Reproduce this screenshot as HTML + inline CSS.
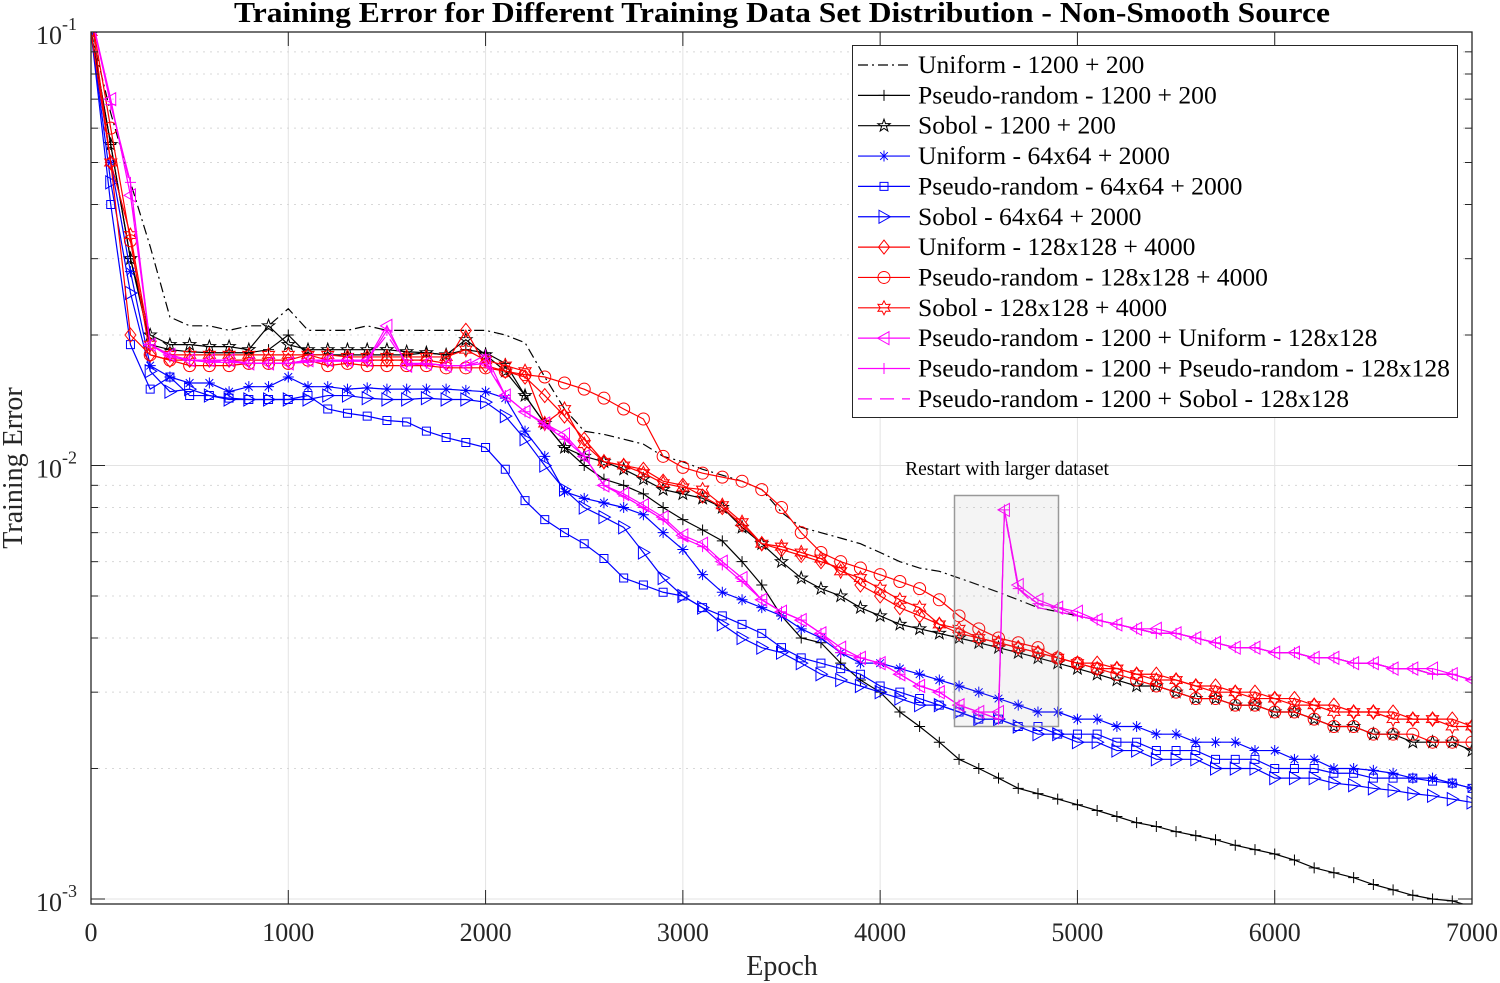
<!DOCTYPE html>
<html><head><meta charset="utf-8">
<style>
html,body{margin:0;padding:0;background:#fff;}
svg{display:block;font-family:"Liberation Serif",serif;}
</style></head>
<body>
<svg id="chart" width="1500" height="983" viewBox="0 0 1500 983" xmlns="http://www.w3.org/2000/svg">
<rect x="0" y="0" width="1500" height="983" fill="#fff"/>
<text x="782" y="22" text-anchor="middle" font-size="28" font-weight="bold" fill="#000" textLength="1096" lengthAdjust="spacingAndGlyphs">Training Error for Different Training Data Set Distribution - Non-Smooth Source</text>
<text x="782" y="975" text-anchor="middle" font-size="28" fill="#262626">Epoch</text>
<text transform="translate(22,468) rotate(-90)" text-anchor="middle" font-size="28" fill="#262626">Training Error</text>
<g id="grid"></g><g id="series"></g><g id="axes"></g><g id="annot"></g><g id="legend"></g>
</svg>
<script>
const epochs = [];
for (let e = 0; e <= 7000; e += 100) epochs.push(e);
const magentaEpochs = [];
for (let e = 0; e <= 4600; e += 100) magentaEpochs.push(e);
magentaEpochs.push(4630);
for (let e = 4700; e <= 7000; e += 100) magentaEpochs.push(e);
const xTicks = [0,1000,2000,3000,4000,5000,6000,7000];
const yDecades = [-1,-2,-3];

const uniform1200 = [.1,.065,.045,.032,.022,.021,.021,.0205,.021,.021,.023,
.0205,.0205,.0205,.021,.0205,.0205,.0205,.0205,.0205,.0205,
.02,.0192,.016,.0135,.012,.0118,.0115,.0112,.0105,.0102,
.0098,.0095,.0092,.0088,.0078,.0072,.007,.0068,.0066,.0063,
.006,.0058,.0057,.0055,.0053,.0051,.0049,.0047,.0046,.0045,
.0044,.0043,.0042,.0041,.0041,.004,.0039,.0038,.0038,.0037,
.0037,.0036,.0036,.0035,.0035,.0034,.0034,.0033,.0033,.0032];
const pseudo1200 = [.1,.055,.03,.019,.0185,.0183,.0182,.0182,.0182,.0185,.02,
.018,.018,.018,.018,.018,.018,.0182,.018,.0185,.0182,
.0172,.0145,.0125,.011,.01,.0093,.009,.0086,.008,.0075,
.0071,.0067,.006,.0053,.0045,.004,.0039,.0035,.0032,.003,
.0027,.0025,.0023,.0021,.002,.0019,.0018,.00175,.0017,.00165,
.0016,.00155,.0015,.00147,.00143,.0014,.00137,.00133,.0013,.00127,
.00123,.00118,.00115,.00112,.00108,.00105,.00102,.001,.00099,.00096];
const sobol1200 = [.1,.055,.03,.02,.019,.019,.0188,.0188,.0185,.021,.019,
.0185,.0185,.0185,.0185,.0185,.0183,.0182,.018,.0195,.018,
.0165,.0145,.0125,.011,.0105,.0102,.0098,.0093,.0088,.0086,
.0084,.008,.0072,.0066,.006,.0055,.0052,.005,.0047,.0045,
.0043,.0042,.0041,.004,.0039,.0038,.0037,.0036,.0035,.0034,
.0033,.0032,.0031,.0031,.003,.0029,.0029,.0028,.0028,.0027,
.0027,.0026,.0025,.0025,.0024,.0024,.0023,.0023,.0023,.0022];
const uniform64 = [.1,.05,.028,.017,.016,.0155,.0155,.0148,.0152,.0152,.016,
.0152,.0152,.015,.0151,.015,.015,.015,.015,.0149,.0148,
.0143,.012,.0105,.0087,.0084,.0082,.008,.0077,.007,.0064,
.0056,.0051,.0049,.0047,.0045,.0042,.004,.0037,.0035,.0035,
.0034,.0033,.0032,.0031,.003,.0029,.0028,.0027,.0027,.0026,
.0026,.0025,.0025,.0024,.0024,.0023,.0023,.0023,.0022,.0022,
.0021,.0021,.002,.002,.00198,.00195,.0019,.0019,.00185,.0018];
const pseudo64 = [.1,.04,.019,.015,.016,.0145,.0145,.0143,.0142,.0142,.0142,
.0145,.0135,.0132,.013,.0127,.0126,.012,.0116,.0113,.011,
.0098,.0083,.0075,.007,.0066,.0061,.0055,.0053,.0051,.005,
.0047,.0045,.0043,.0041,.0038,.0036,.0035,.0034,.0033,.0031,
.003,.0029,.0028,.0027,.0026,.0026,.0025,.0025,.0024,.0024,
.0024,.0023,.0023,.0022,.0022,.0022,.0021,.0021,.0021,.002,
.002,.002,.00195,.00195,.0019,.0019,.0019,.00187,.00185,.0018];
const sobol64 = [.1,.045,.025,.0165,.0148,.015,.0145,.0142,.0142,.0142,.0142,
.0142,.0145,.0145,.0143,.0142,.0142,.0143,.0142,.0142,.014,
.013,.0115,.01,.0088,.008,.0076,.0072,.0063,.0055,.005,
.0047,.0043,.004,.0038,.0037,.0035,.0033,.0032,.0031,.003,
.0029,.0028,.0028,.0027,.0026,.0026,.0025,.0024,.0024,.0023,
.0023,.0022,.0022,.0021,.0021,.0021,.002,.002,.002,.0019,
.0019,.0019,.00185,.00183,.0018,.00178,.00175,.00173,.0017,.00167];
const uniform128 = [.11,.05,.02,.018,.0175,.0175,.0175,.0175,.0175,.0175,.0175,
.018,.0175,.0175,.0175,.0175,.0175,.0175,.0172,.0205,.017,
.0165,.016,.0145,.013,.0115,.0102,.01,.0098,.0092,.009,
.0085,.008,.0073,.0066,.0064,.0062,.006,.0058,.0053,.005,
.0047,.0045,.0043,.0041,.004,.0039,.0038,.0037,.0036,.0035,
.0035,.0034,.0033,.0033,.0032,.0031,.0031,.003,.003,.0029,
.0029,.0028,.0028,.0027,.0027,.0027,.0026,.0026,.0026,.0025];
const pseudo128 = [.11,.06,.033,.018,.0175,.017,.017,.017,.0172,.0172,.0172,
.0175,.017,.0172,.017,.017,.017,.017,.0168,.0168,.0168,
.0165,.0162,.016,.0155,.015,.0143,.0135,.0128,.0105,.0099,
.0096,.0094,.0092,.0088,.008,.007,.0063,.006,.0058,.0056,
.0054,.0052,.0049,.0045,.0042,.004,.0039,.0038,.0036,.0035,
.0034,.0033,.0032,.0031,.003,.0029,.0029,.0028,.0028,.0027,
.0027,.0026,.0025,.0025,.0024,.0024,.0024,.0023,.0023,.0023];
const sobol128 = [.1,.05,.034,.019,.018,.018,.018,.018,.018,.018,.018,
.018,.018,.0178,.0178,.0178,.0178,.0178,.0178,.0185,.0175,
.017,.0165,.0125,.0135,.0112,.0102,.01,.0096,.0091,.0089,
.0088,.0081,.0074,.0066,.0065,.0063,.0061,.0057,.0055,.0052,
.0049,.0047,.0043,.0042,.004,.0039,.0038,.0037,.0036,.0035,
.0034,.0034,.0033,.0032,.0032,.0031,.003,.003,.0029,.0029,
.0028,.0028,.0027,.0027,.0027,.0026,.0026,.0026,.0025,.0025];
const prUniform = [.11,.07,.042,.019,.018,.0175,.0175,.0175,.0172,.0172,.0172,
.0175,.0175,.0175,.0175,.021,.017,.0172,.017,.017,.0172,
.0145,.0133,.0125,.0118,.0105,.009,.0086,.0081,.0076,.0069,
.0066,.006,.0055,.0049,.0046,.0044,.0041,.0038,.0036,.0035,
.0033,.0031,.003,.0028,.0027,.0027,
.0079,.0053,.0049,.0047,.0046,.0044,.0043,.0042,.0042,.0041,.004,.0039,.0038,.0038,.0037,.0037,.0036,.0036,.0035,.0035,.0034,.0034,.0034,.0033,.0032];
const prPseudo = [.11,.068,.045,.019,.0178,.0175,.0173,.0173,.0172,.0172,.0172,
.0173,.0174,.0174,.0174,.0205,.0172,.0172,.017,.017,.018,
.0145,.0133,.0124,.0115,.0105,.009,.0085,.008,.0075,.0068,
.0065,.0059,.0054,.0049,.0046,.0044,.0041,.0037,.0036,.0035,
.0033,.0031,.003,.0028,.0027,.0026,
.0079,.0052,.0048,.0047,.0045,.0044,.0043,.0042,.0041,.0041,.004,.0039,.0038,.0038,.0037,.0037,.0036,.0036,.0035,.0035,.0034,.0034,.0033,.0033,.0032];
const prSobol = [.11,.069,.044,.019,.018,.0175,.0174,.0174,.0172,.0172,.0172,
.0174,.0175,.0175,.0175,.02,.0171,.0171,.017,.017,.0175,
.0145,.0133,.0125,.0116,.0105,.009,.0085,.008,.0075,.0068,
.0065,.006,.0055,.0049,.0046,.0044,.0041,.0038,.0036,.0035,
.0033,.0031,.003,.0028,.0027,.0026,
.0078,.0052,.0047,.0046,.0045,.0044,.0043,.0042,.0041,.0041,.004,.0039,.0038,.0038,.0037,.0037,.0036,.0036,.0035,.0035,.0034,.0034,.0033,.0033,.0032];

const seriesNames = ["Uniform - 1200 + 200","Pseudo-random - 1200 + 200","Sobol - 1200 + 200",
"Uniform - 64x64 + 2000","Pseudo-random - 64x64 + 2000","Sobol - 64x64 + 2000",
"Uniform - 128x128 + 4000","Pseudo-random - 128x128 + 4000","Sobol - 128x128 + 4000",
"Pseudo-random - 1200 + Uniform - 128x128","Pseudo-random - 1200 + Pseudo-random - 128x128","Pseudo-random - 1200 + Sobol - 128x128"];

const NS="http://www.w3.org/2000/svg";
const X0=91,X1=1472,YTOP=32,YBOT=904,Y1E1=32,DEC=433.5;
function xs(e){return X0+(e/7000)*(X1-X0);}
function ys(v){return Y1E1+(-1-Math.log10(v))*DEC;}
function mk(tag,attrs,parent){const el=document.createElementNS(NS,tag);for(const k in attrs)el.setAttribute(k,attrs[k]);parent.appendChild(el);return el;}

const grid=document.getElementById('grid');
for(const t of xTicks){ if(t===0||t===7000)continue;
  const l=mk('line',{x1:xs(t),x2:xs(t),y1:YTOP,y2:YBOT,stroke:'#e3e3e3','stroke-width':1},grid);
  
  
}
for(const d of yDecades){
  for(let m=1;m<10;m++){
    const v=m*Math.pow(10,d); const y=ys(v);
    if(y<YTOP-0.5||y>YBOT)continue;
    const major=(m===1);
    const l=mk('line',{x1:X0,x2:X1,y1:y,y2:y,stroke:major?'#e3e3e3':'#d8d8d8','stroke-width':1,'stroke-dasharray':major?'':'2,5'},grid);
    
    
  }
}

function markerPath(type,x,y){
  const r=5.5;
  switch(type){
    case 'plus': return `M${x-r},${y}H${x+r}M${x},${y-r}V${y+r}`;
    case 'asterisk': {let p=`M${x-r},${y}H${x+r}M${x},${y-r}V${y+r}`;const d=r*0.7;p+=`M${x-d},${y-d}L${x+d},${y+d}M${x-d},${y+d}L${x+d},${y-d}`;return p;}
    case 'square': return `M${x-4},${y-4}h8v8h-8z`;
    case 'circle': return `M${x-6},${y}a6,6 0 1,0 12,0a6,6 0 1,0 -12,0`;
    case 'diamond': return `M${x},${y-7}L${x+5.5},${y}L${x},${y+7}L${x-5.5},${y}Z`;
    case 'triright': return `M${x-5},${y-6.5}L${x+6.5},${y}L${x-5},${y+6.5}Z`;
    case 'trileft': return `M${x+5},${y-6.5}L${x-6.5},${y}L${x+5},${y+6.5}Z`;
    case 'pentagram': case 'hexagram': {
      const n=type==='pentagram'?5:6, R=type==='pentagram'?6.5:7, ri=type==='pentagram'?2.6:3.8; let p='';
      for(let i=0;i<2*n;i++){const a=-Math.PI/2+i*Math.PI/n;const rr=i%2?ri:R;p+=(i?'L':'M')+(x+rr*Math.cos(a)).toFixed(2)+','+(y+rr*Math.sin(a)).toFixed(2);}
      return p+'Z';}
  }
  return '';
}

const seriesDefs=[
 {data:uniform1200,ep:epochs,color:'#000',dash:'10,4,2,4',marker:null,slug:'uniform-1200'},
 {data:pseudo1200,ep:epochs,color:'#000',dash:'',marker:'plus',slug:'pseudo-random-1200'},
 {data:sobol1200,ep:epochs,color:'#000',dash:'',marker:'pentagram',slug:'sobol-1200'},
 {data:uniform64,ep:epochs,color:'#0000ff',dash:'',marker:'asterisk',slug:'uniform-64x64'},
 {data:pseudo64,ep:epochs,color:'#0000ff',dash:'',marker:'square',slug:'pseudo-random-64x64'},
 {data:sobol64,ep:epochs,color:'#0000ff',dash:'',marker:'triright',slug:'sobol-64x64'},
 {data:uniform128,ep:epochs,color:'#ff0000',dash:'',marker:'diamond',slug:'uniform-128x128'},
 {data:pseudo128,ep:epochs,color:'#ff0000',dash:'',marker:'circle',slug:'pseudo-random-128x128'},
 {data:sobol128,ep:epochs,color:'#ff0000',dash:'',marker:'hexagram',slug:'sobol-128x128'},
 {data:prUniform,ep:magentaEpochs,color:'#ff00ff',dash:'',marker:'trileft',slug:'pr-uniform-128x128'},
 {data:prPseudo,ep:magentaEpochs,color:'#ff00ff',dash:'',marker:'plus',slug:'pr-pseudo-random-128x128'},
 {data:prSobol,ep:magentaEpochs,color:'#ff00ff',dash:'14,8',marker:null,slug:'pr-sobol-128x128'}
];

const sg=document.getElementById('series');
const defs=mk('defs',{},sg);
const cp=mk('clipPath',{id:'plotclip'},defs);
mk('rect',{x:X0,y:YTOP,width:X1-X0,height:YBOT-YTOP},cp);
seriesDefs.forEach((s)=>{
  const g=mk('g',{'clip-path':'url(#plotclip)'},sg);
  
  
  const pts=s.data.map((v,i)=>xs(s.ep[i]).toFixed(2)+','+ys(v).toFixed(2)).join(' ');
  const line=mk('polyline',{points:pts,fill:'none',stroke:s.color,'stroke-width':1.2,'stroke-dasharray':s.dash},g);
  
  
  if(s.marker){
    let d='';
    s.data.forEach((v,i)=>{d+=markerPath(s.marker,xs(s.ep[i]),ys(v));});
    const m=mk('path',{d:d,fill:'none',stroke:s.color,'stroke-width':1},g);
    
    
  }
});

const ax=document.getElementById('axes');
const box=mk('rect',{x:X0,y:YTOP,width:X1-X0,height:YBOT-YTOP,fill:'none',stroke:'#262626','stroke-width':1.3},ax);


for(const t of xTicks){
  const x=xs(t);
  mk('line',{x1:x,x2:x,y1:YBOT,y2:YBOT-14,stroke:'#262626'},ax);
  mk('line',{x1:x,x2:x,y1:YTOP,y2:YTOP+14,stroke:'#262626'},ax);
  const tx=mk('text',{x:x,y:941,'text-anchor':'middle','font-size':26,fill:'#262626'},ax);
  tx.textContent=t;
  
  
}
for(const d of yDecades){
  for(let m=1;m<10;m++){
    const y=ys(m*Math.pow(10,d)); if(y<YTOP-0.5||y>YBOT)continue;
    const len=m===1?14:7;
    mk('line',{x1:X0,x2:X0+len,y1:y,y2:y,stroke:'#262626'},ax);
    mk('line',{x1:X1,x2:X1-len,y1:y,y2:y,stroke:'#262626'},ax);
  }
  const y=ys(Math.pow(10,d));
  const tx=mk('text',{x:62,y:y+12,'text-anchor':'end','font-size':26,fill:'#262626'},ax);
  tx.textContent='10';
  
  
  const sup=mk('text',{x:62,y:y-2,'text-anchor':'start','font-size':18,fill:'#262626'},ax);
  sup.textContent=String(d);
  
  
}

const an=document.getElementById('annot');
const ab=mk('rect',{x:954.5,y:495.5,width:104,height:231,fill:'rgba(150,150,150,0.1)',stroke:'#999','stroke-width':1.5},an);


const at=mk('text',{x:1007,y:475,'text-anchor':'middle','font-size':19.5,fill:'#000'},an);
at.textContent='Restart with larger dataset';



const lg=document.getElementById('legend');
const lb=mk('rect',{x:852.5,y:45.5,width:605,height:372,fill:'#fff',stroke:'#262626','stroke-width':1},lg);


seriesDefs.forEach((s,i)=>{
  const y=65+i*30.35;
  const g=mk('g',{},lg);
  
  
  mk('line',{x1:858,x2:910,y1:y,y2:y,stroke:s.color,'stroke-width':1.2,'stroke-dasharray':s.dash},g);
  if(s.marker) mk('path',{d:markerPath(s.marker,884,y),fill:'none',stroke:s.color,'stroke-width':1},g);
  const t=mk('text',{x:918,y:y+8,'font-size':25.6,fill:'#000'},g);
  t.textContent=seriesNames[i];
});
</script>
</body></html>
